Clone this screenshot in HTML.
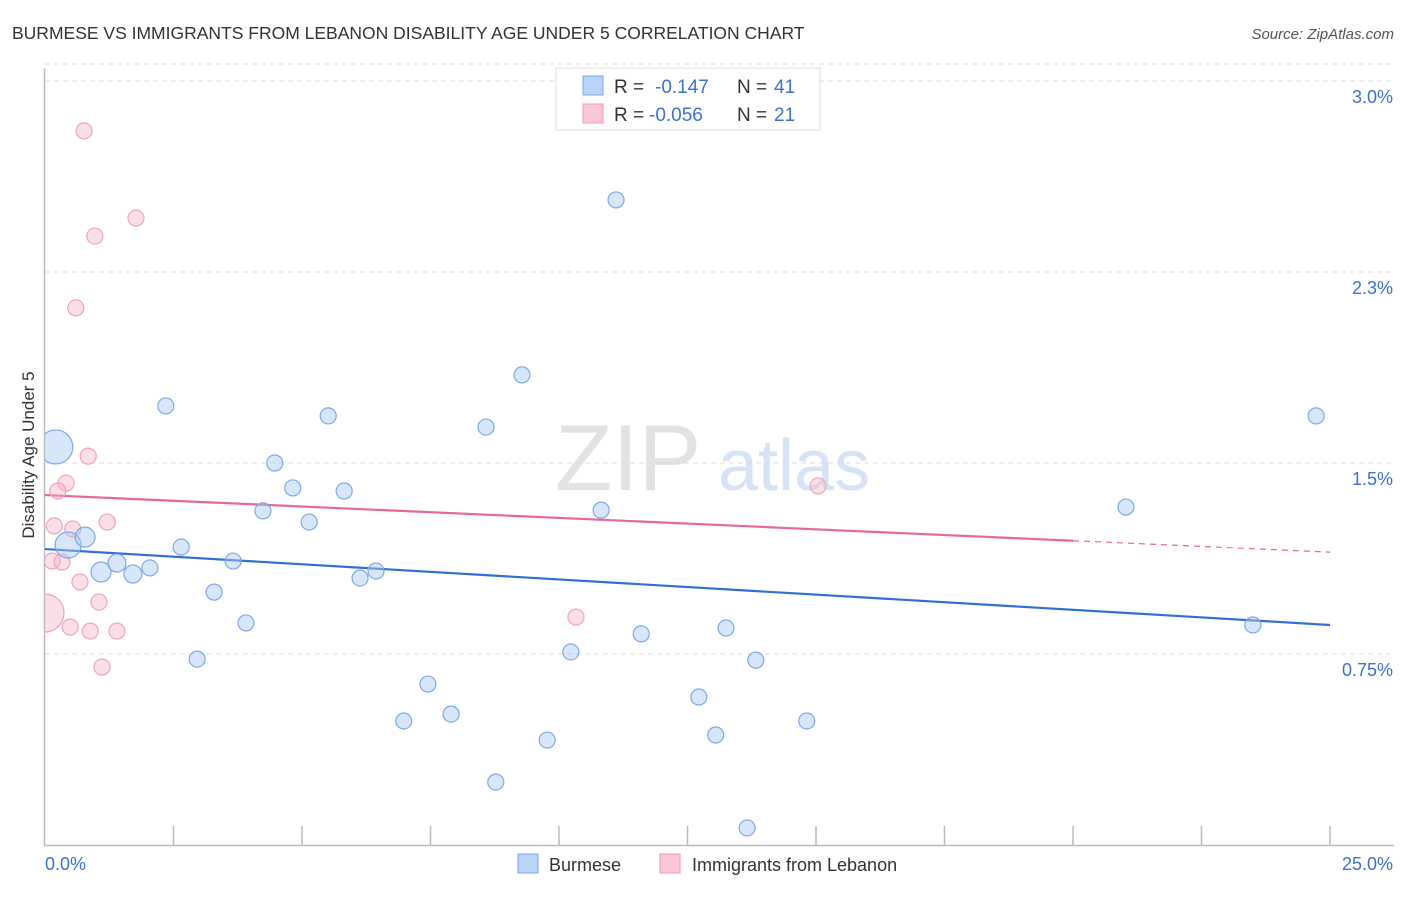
<!DOCTYPE html>
<html><head><meta charset="utf-8"><style>
body{margin:0;background:#fff;font-family:"Liberation Sans",sans-serif;}
svg text{font-family:"Liberation Sans",sans-serif;}
</style></head><body>
<svg id="chart" width="1406" height="892" viewBox="0 0 1406 892" xmlns="http://www.w3.org/2000/svg">
<text x="12" y="39" font-size="17.5" fill="#333">BURMESE VS IMMIGRANTS FROM LEBANON DISABILITY AGE UNDER 5 CORRELATION CHART</text>
<text x="1394" y="39" font-size="15" fill="#555" font-style="italic" text-anchor="end">Source: ZipAtlas.com</text>
<text transform="translate(34,455) rotate(-90)" font-size="17" fill="#333" text-anchor="middle">Disability Age Under 5</text>
<g>
<text x="555" y="490" font-size="94" fill="#e3e3e3" font-family="Liberation Serif">ZIP</text>
<text x="718" y="490" font-size="72" fill="#d6e4f6">atlas</text>
</g>
<g id="grid"></g>
<g id="axes"></g>
<defs><clipPath id="plotclip"><rect x="45" y="60" width="1361" height="785"/></clipPath></defs>
<g id="trend"></g>
<g id="points" clip-path="url(#plotclip)"></g>
<g>
<rect x="556" y="68" width="264" height="62" fill="#fff" stroke="#ddd"/>
<rect x="583" y="76" width="20" height="19" fill="#b8d3f5" stroke="#7fa9e6"/>
<rect x="583" y="104" width="20" height="19" fill="#f9c6d4" stroke="#ee9ab3"/>
<text x="614" y="93" font-size="19" fill="#333">R = </text><text x="655" y="93" font-size="19" fill="#3b72d0">-0.147</text>
<text x="737" y="93" font-size="19" fill="#333">N = </text><text x="774" y="93" font-size="19" fill="#3b72d0">41</text>
<text x="614" y="121" font-size="19" fill="#333">R = </text><text x="649" y="121" font-size="19" fill="#3b72d0">-0.056</text>
<text x="737" y="121" font-size="19" fill="#333">N = </text><text x="774" y="121" font-size="19" fill="#3b72d0">21</text>
</g>
<g>
<rect x="518" y="854" width="20" height="19" fill="#b8d3f5" stroke="#7fa9e6"/>
<text x="549" y="871" font-size="18" fill="#333">Burmese</text>
<rect x="660" y="854" width="20" height="19" fill="#f9c6d4" stroke="#ee9ab3"/>
<text x="692" y="871" font-size="18" fill="#333">Immigrants from Lebanon</text>
</g>
</svg>
<script>
const yTicks=[0.75,1.5,2.25,3.0];
const yTickLabels=["0.75%","1.5%","2.3%","3.0%"];
const xTickCount=10;
const xMax=25;
const burmeseX=[0.21,0.45,0.78,1.09,1.40,1.71,2.04,2.35,2.65,2.96,3.29,3.66,3.91,4.24,4.47,4.82,5.14,5.51,5.82,6.13,6.44,6.98,7.45,7.90,8.58,8.77,9.28,9.77,10.23,10.82,11.11,11.60,12.72,13.05,13.25,13.66,13.83,14.82,21.03,23.50,24.73];
const burmeseY=[1.563,1.178,1.209,1.072,1.107,1.064,1.088,1.724,1.170,0.730,0.993,1.115,0.872,1.312,1.500,1.402,1.268,1.685,1.390,1.048,1.076,0.487,0.632,0.514,1.641,0.247,1.846,0.412,0.758,1.315,2.533,0.829,0.581,0.432,0.852,0.067,0.726,0.487,1.327,0.864,1.685];
const burmeseR=[17,13,10,10,9,9,8,8,8,8,8,8,8,8,8,8,8,8,8,8,8,8,8,8,8,8,8,8,8,8,8,8,8,8,8,8,8,8,8,8,8];
const lebX=[0.76,0.97,1.77,0.60,0.84,0.41,0.25,0.18,0.54,1.21,0.14,0.33,0.68,0.0,1.05,0.49,0.88,1.40,1.11,10.33,15.04];
const lebY=[2.804,2.391,2.462,2.109,1.527,1.421,1.390,1.253,1.241,1.268,1.115,1.111,1.033,0.911,0.954,0.856,0.840,0.840,0.699,0.895,1.410];
const lebR=[8,8,8,8,8,8,8,8,8,8,8,8,8,19,8,8,8,8,8,8,8];
const burmeseTrend=[1.162,0.864];
const lebTrend=[1.374,1.150];
const lebSolidEnd=20;
const NS="http://www.w3.org/2000/svg";
const X0=45,X1=1330,Y0=845,YPX=254.67;
function sx(v){return X0+(v/xMax)*(X1-X0);}
function sy(v){return Y0-v*YPX;}
function mk(tag,attrs,parent){const e=document.createElementNS(NS,tag);for(const k in attrs)e.setAttribute(k,attrs[k]);parent.appendChild(e);return e;}
const grid=document.getElementById('grid'),axes=document.getElementById('axes');
yTicks.forEach((t,i)=>{
 const l=mk('line',{x1:45,x2:1394,y1:sy(t),y2:sy(t),stroke:'#ddd','stroke-dasharray':'5,4'},grid);
 
 
 const tx=mk('text',{x:1393,y:sy(t)+22,'font-size':18,fill:'#3b72d0','text-anchor':'end'},axes);
 tx.textContent=yTickLabels[i];
 
 
});
const topL=mk('line',{x1:45,x2:1394,y1:sy(3.0)-17,y2:sy(3.0)-17,stroke:'#ddd','stroke-dasharray':'5,4'},grid);


const ya=mk('line',{x1:44.5,x2:44.5,y1:68,y2:845,stroke:'#bbb','stroke-width':1.5},axes);


const xa=mk('line',{x1:44,x2:1394,y1:845.5,y2:845.5,stroke:'#bbb','stroke-width':1.5},axes);


for(let i=1;i<=xTickCount;i++){
 const x=sx(i*xMax/xTickCount);
 const t=mk('line',{x1:x,x2:x,y1:826,y2:845,stroke:'#bbb','stroke-width':1.5},axes);
 
 
}
const xl0=mk('text',{x:45,y:870,'font-size':18,fill:'#3b72d0'},axes);xl0.textContent='0.0%';


const xl1=mk('text',{x:1393,y:870,'font-size':18,fill:'#3b72d0','text-anchor':'end'},axes);xl1.textContent=xMax.toFixed(1)+'%';


const pts=document.getElementById('points');
lebX.forEach((v,i)=>{
 const c=mk('circle',{cx:sx(v),cy:sy(lebY[i]),r:lebR[i],fill:'rgba(246,176,198,0.4)',stroke:'#f0a3bb','stroke-width':1.2},pts);
 
 
});
burmeseX.forEach((v,i)=>{
 const c=mk('circle',{cx:sx(v),cy:sy(burmeseY[i]),r:burmeseR[i],fill:'rgba(168,200,242,0.45)',stroke:'#7fa9e6','stroke-width':1.2},pts);
 
 
});
const tr=document.getElementById('trend');
function ty(a,x){return a[0]+(a[1]-a[0])*x/xMax;}
const bl=mk('line',{x1:sx(0),y1:sy(burmeseTrend[0]),x2:sx(xMax),y2:sy(burmeseTrend[1]),stroke:'#2f6fd6','stroke-width':2.2},tr);


const pl=mk('line',{x1:sx(0),y1:sy(lebTrend[0]),x2:sx(lebSolidEnd),y2:sy(ty(lebTrend,lebSolidEnd)),stroke:'#e8679a','stroke-width':2.2},tr);


const pd=mk('line',{x1:sx(lebSolidEnd),y1:sy(ty(lebTrend,lebSolidEnd)),x2:sx(xMax),y2:sy(lebTrend[1]),stroke:'#e8679a','stroke-width':1.2,'stroke-dasharray':'6,5'},tr);


</script>
</body></html>
